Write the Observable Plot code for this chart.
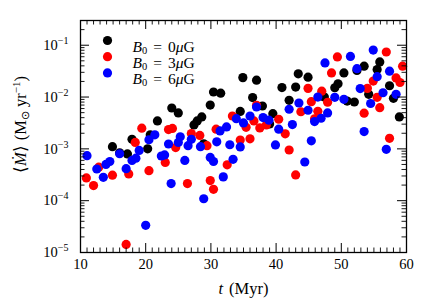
<!DOCTYPE html>
<html><head><meta charset="utf-8">
<script src="https://cdn.jsdelivr.net/npm/d3@7"></script>
<script src="https://cdn.jsdelivr.net/npm/@observablehq/plot@0.6"></script>
<style>body{margin:0;background:#fff}</style>
</head><body><div id="chart"></div>
<script>
// B0 = 0 μG (black)
const b0t = [14.9,16.0,17.2,17.9,20.3,20.7,21.8,24.0,25.0,27.4,27.9,28.6,28.9,29.9,30.4,31.5,34.5,34.9,37.0,36.4,37.9,39.0,39.5,40.9,42.0,43.0,43.4,44.9,47.4,49.0,49.5,50.4,50.9,52.0,52.4,53.5,54.2,55.5,55.9,57.4,58.0,58.9];
const b0m = [1.10e-3,8.4e-4,8.0e-4,1.53e-3,1.0e-3,1.87e-3,3.46e-3,6.15e-3,4.93e-3,2.90e-3,3.46e-3,4.13e-3,1.25e-3,7.0e-3,1.25e-2,1.19e-2,5.27e-3,2.37e-2,2.12e-2,9.77e-3,6.71e-3,3.03e-3,4.77e-3,1.52e-2,8.65e-3,1.56e-2,2.80e-2,2.42e-2,1.0e-2,1.51e-2,1.80e-2,2.92e-2,8.37e-3,8.02e-3,3.25e-2,3.94e-2,1.13e-2,3.40e-2,4.76e-2,1.65e-2,9.44e-3,4.13e-3];
// B0 = 3 μG (red)
const b3t = [10.9,12.0,12.8,14.9,17.0,17.4,18.4,19.4,20.5,23.0,23.5,24.1,24.6,26.4,27.0,28.3,29.4,29.9,30.4,30.8,32.5,33.3,34.5,35.4,36.0,36.6,37.0,37.5,38.5,40.4,41.4,42.0,43.0,43.8,44.9,45.4,45.9,46.4,47.0,47.9,48.5,49.4,53.5,54.0,54.9,55.5,55.9,56.9,57.4,58.4,59.0,59.4];
const b3m = [2.75e-4,1.96e-4,4.44e-4,3.11e-4,1.43e-5,3.28e-4,1.33e-3,2.51e-3,3.80e-4,5.48e-4,2.36e-3,2.48e-3,1.06e-3,2.14e-4,1.98e-3,1.82e-3,1.15e-3,2.44e-4,1.66e-4,2.40e-3,4.91e-4,4.31e-3,1.48e-3,2.60e-3,1.56e-3,3.46e-3,6.93e-3,2.54e-3,2.90e-3,3.73e-3,1.95e-3,9.5e-4,3.14e-4,5.20e-3,1.47e-2,8.13e-3,3.79e-3,5.32e-3,1.30e-2,7.94e-3,2.92e-2,5.94e-2,4.89e-3,1.47e-2,2.03e-2,9.87e-3,6.24e-3,7.40e-2,1.60e-3,2.34e-2,1.91e-2,3.94e-2];
// B0 = 6 μG (blue)
const b6t = [11.0,12.5,13.5,13.9,14.5,16.0,17.0,17.9,18.5,19.0,20.0,20.5,21.4,22.4,22.9,23.5,23.9,25.0,25.3,26.0,26.5,27.0,28.4,28.9,29.9,30.4,30.9,31.4,31.9,32.4,32.9,33.4,33.9,34.5,35.0,36.0,37.0,38.0,38.9,39.9,40.4,42.0,42.5,43.5,44.4,44.9,45.4,45.9,46.4,46.9,47.5,47.9,49.0,50.4,51.4,52.4,52.9,53.5,54.5,54.9,55.5,56.4,56.9,57.4,58.4];
const b6m = [7.38e-4,4.09e-4,2.82e-4,5.0e-4,5.70e-4,8.05e-4,4.15e-4,5.98e-4,6.61e-4,9.31e-4,3.34e-5,1.50e-3,1.87e-3,7.28e-4,7.64e-4,1.24e-3,2.14e-4,1.33e-3,1.71e-3,5.98e-4,1.15e-3,1.53e-3,1.10e-3,1.09e-4,6.84e-4,5.70e-4,1.37e-3,2.22e-3,2.88e-4,2.65e-3,1.20e-3,6.27e-4,3.83e-3,1.09e-3,3.17e-3,4.31e-3,6.43e-3,4.01e-3,3.57e-3,1.19e-3,2.40e-3,5.81e-3,2.94e-3,7.67e-3,5.58e-4,5.56e-3,1.43e-3,3.36e-3,1.0e-2,3.90e-3,4.55e-2,4.93e-3,9.87e-3,9.04e-3,6.07e-2,3.52e-2,1.46e-2,2.16e-3,7.50e-3,8.05e-2,2.47e-2,1.21e-2,9.8e-4,3.16e-2,1.13e-2];

const seriesValues = ["0","3","6"];
const seriesColors = ["black","red","blue"];
const xTicks = [10,20,30,40,50,60];
const yTicks = [1e-5,1e-4,1e-3,1e-2,1e-1];
const yTickExp = ["\u22125","\u22124","\u22123","\u22122","\u22121"];

const W = 436, H = 305, mL = 80, mR = 30, mT = 20, mB = 53;
const iH = H - mT - mB, iW = W - mL - mR;
const FONT = "Liberation Serif";

const xMinor = d3.range(10, 61).filter(v => v % 10 !== 0);
const yMinor = [];
for (let e = -5; e <= -1; e++) for (let k = 2; k <= 9; k++) { const v = k * Math.pow(10, e); if (v <= 0.3) yMinor.push(v); }

const toRows = (t, m) => t.map((d, i) => ({t: d, m: m[i]}));
const sets = [toRows(b0t, b0m), toRows(b3t, b3m), toRows(b6t, b6m)];
const R = 4.6;

const marks = [];
sets.forEach((s, i) => marks.push(Plot.dot(s, {x: "t", y: "m", r: R, fill: seriesColors[i], stroke: "none"})));
marks.push(
  Plot.ruleX(xTicks, {x: d => d, insetTop: iH - 9, stroke: "black", strokeWidth: 1}),
  Plot.ruleX(xTicks, {x: d => d, insetBottom: iH - 9, stroke: "black", strokeWidth: 1}),
  Plot.ruleX(xMinor, {x: d => d, insetTop: iH - 4.5, stroke: "black", strokeWidth: 0.9}),
  Plot.ruleX(xMinor, {x: d => d, insetBottom: iH - 4.5, stroke: "black", strokeWidth: 0.9}),
  Plot.ruleY(yTicks, {y: d => d, insetRight: iW - 9, stroke: "black", strokeWidth: 1}),
  Plot.ruleY(yTicks, {y: d => d, insetLeft: iW - 9, stroke: "black", strokeWidth: 1}),
  Plot.ruleY(yMinor, {y: d => d, insetRight: iW - 4.5, stroke: "black", strokeWidth: 0.9}),
  Plot.ruleY(yMinor, {y: d => d, insetLeft: iW - 4.5, stroke: "black", strokeWidth: 0.9}),
  Plot.frame({stroke: "black", strokeWidth: 1.3}),
  Plot.text(xTicks, {x: d => d, frameAnchor: "bottom", dy: 16, text: d => String(d), fontSize: 14.5, fill: "black"}),
  Plot.text(yTicks, {y: d => d, frameAnchor: "left", dx: -12, textAnchor: "end", text: (d, i) => yTickExp[i], fontSize: 14.5, fill: "black", className: "ylab"}),
  Plot.text(["t (Myr)"], {frameAnchor: "bottom", dy: 41, text: d => d, fontSize: 16.5, fill: "black", className: "xtitle"}),
  Plot.text(["M"], {frameAnchor: "left", dx: -60, dy: -12, rotate: -90, textAnchor: "middle", text: d => d, fontSize: 16.5, fill: "black", className: "ytitle"})
);
seriesValues.forEach((v, i) => {
  marks.push(Plot.dot([v], {frameAnchor: "top-left", dx: 27, dy: 20 + 16.2 * i, r: R, fill: seriesColors[i]}));
  marks.push(Plot.text([v], {frameAnchor: "top-left", dx: 52, dy: 20 + 16.2 * i, textAnchor: "start", text: d => d, fontSize: 15.5, fill: "black", className: "leg"}));
});

const chart = Plot.plot({
  width: W, height: H, marginLeft: mL, marginRight: mR, marginTop: mT, marginBottom: mB,
  style: {fontFamily: FONT, background: "white"},
  x: {domain: [10, 60], axis: null},
  y: {type: "log", domain: [1e-5, 0.3], axis: null},
  marks
});
document.getElementById("chart").appendChild(chart);

const svg = d3.select(chart);
function fill(node, parts) {
  const t = d3.select(node); t.text(null);
  parts.forEach(p => {
    const s = t.append("tspan").text(p.s);
    if (p.i) s.attr("font-style", "italic");
    if (p.dy) s.attr("dy", p.dy);
    if (p.dx) s.attr("dx", p.dx);
    if (p.fs) s.attr("font-size", p.fs);
  });
}
svg.selectAll(".ylab text").each(function() {
  const e = this.textContent;
  fill(this, [{s: "10"}, {s: e, dy: -6, fs: 10}]);
});
svg.selectAll(".xtitle text").each(function() {
  fill(this, [{s: "t", i: true}, {s: "(Myr)", dx: 6}]);
});
svg.selectAll(".ytitle text").each(function() {
  fill(this, [{s: "\u27E8"}, {s: "\u1E40", i: true}, {s: "\u27E9"}, {s: "(M", dx: 5}, {s: "\u2299", dy: 3, fs: 11}, {s: "yr", dy: -3, dx: 4}, {s: "\u22121", dy: -6, fs: 11}, {s: ")", dy: 6}]);
});
svg.selectAll(".leg text").each(function() {
  const v = this.textContent;
  fill(this, [{s: "B", i: true}, {s: "0", dy: 2.5, fs: 10.5}, {s: "=", dy: -2.5, dx: 6}, {s: v, dx: 6}, {s: "\u03BC", i: true}, {s: "G"}]);
});
</script></body></html>
